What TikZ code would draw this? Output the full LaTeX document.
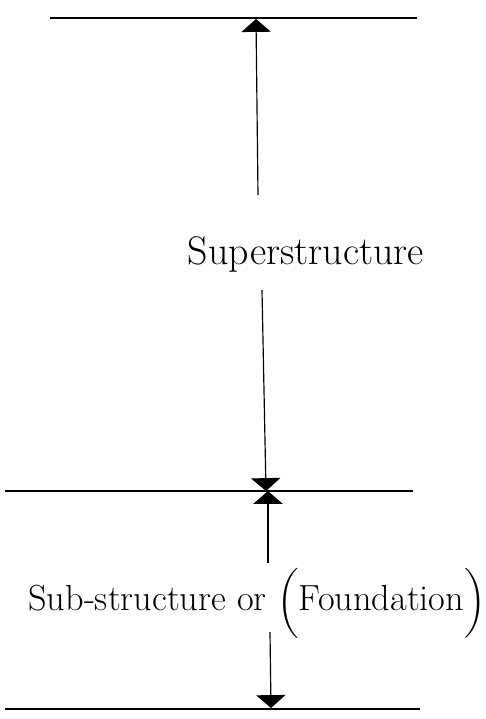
\documentclass[tikz,border=0pt]{standalone}
\usepackage{amsmath}
\usepackage{tikz}
\usetikzlibrary{arrows.meta, positioning}
\tikzstyle{level} = [line width=1.5pt, black]
\tikzstyle{dim} = [line width=1pt, -{Triangle[width=25pt,length=11pt]}]
\tikzstyle{hand} = [inner sep=0pt, font=\fontsize{31}{36}\selectfont]

\begin{document}
\begin{tikzpicture}[x=0.03cm, y=-0.03cm]
    \useasboundingbox (0,0) rectangle (486,719);
    % Levels
    \coordinate (topL) at (50,18);   \coordinate (topR) at (417,18);
    \coordinate (midL) at (5,491);   \coordinate (midR) at (413,491);
    \coordinate (botL) at (5,709);   \coordinate (botR) at (420,709);
    \draw [level] (topL) -- (topR);
    \draw [level] (midL) -- (midR);
    \draw [level] (botL) -- (botR);

    % Labels
    \node [hand, font=\fontsize{34}{40}\selectfont] (super) at (306,254) {Superstructure};
    \node [hand] (sub) at (257,603) {Sub-structure or $\bigg($Foundation$\bigg)$};

    % Dimension arrows
    \coordinate (topMid) at (256,19);
    \coordinate (midUp) at (266,491);
    \coordinate (midDown) at (268,491);
    \coordinate (botMid) at (271,708);
    \coordinate (superA) at (258,195);
    \coordinate (superB) at (262,290);
    \coordinate (subA) at (268,563);
    \coordinate (subB) at (270,632);
    \draw [dim] (superA) -- (topMid);
    \draw [dim] (superB) -- (midUp);
    \draw [dim] (subA) -- (midDown);
    \draw [dim] (subB) -- (botMid);
\end{tikzpicture}
\end{document}
